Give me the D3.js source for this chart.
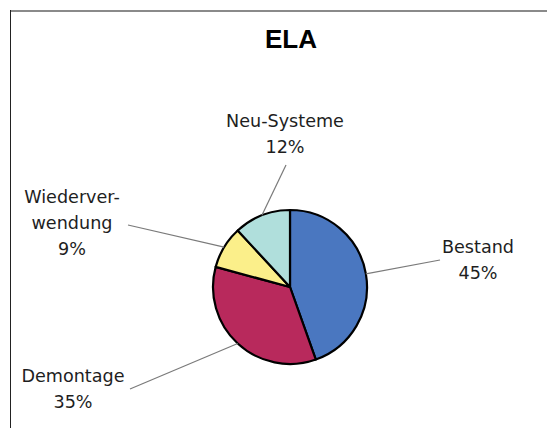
<!DOCTYPE html>
<html>
<head>
<meta charset="utf-8">
<script src="https://cdn.jsdelivr.net/npm/d3@7"></script>
<style>
html,body{margin:0;padding:0;background:#fff;}
svg{display:block;}
</style>
</head>
<body>
<svg id="chart" width="547" height="428"></svg>
<script>
// Data
const categories = ["Bestand", "Demontage", "Wiederverwendung", "Neu-Systeme"];
const values = [45, 35, 9, 12];
const labelLines = [["Bestand", "45%"], ["Demontage", "35%"], ["Wiederver-", "wendung", "9%"], ["Neu-Systeme", "12%"]];
const colors = ["#4a77c0", "#b8295c", "#fbef8a", "#b0dfdc"];

// Layout (label anchor positions and leader line ends)
const labelPos = [
  {x: 478, y: 253, lx: 440, ly: 260},
  {x: 73, y: 382, lx: 130, ly: 389},
  {x: 72, y: 203, lx: 128, ly: 225},
  {x: 285, y: 127, lx: 286, ly: 165}
];

const svg = d3.select("#chart");
const W = 547, H = 428;
const cx = 290, cy = 287, R = 77;

// frame
svg.append("line").attr("x1", 10).attr("x2", W).attr("y1", 11).attr("y2", 11)
  .attr("stroke", "#8a8a8a").attr("stroke-width", 2);
svg.append("line").attr("x1", 10.5).attr("x2", 10.5).attr("y1", 10).attr("y2", H)
  .attr("stroke", "#222").attr("stroke-width", 1);

// title
svg.append("text").attr("x", 291).attr("y", 48).attr("text-anchor", "middle")
  .attr("font-family", "Liberation Sans, Arial, sans-serif").attr("font-weight", "bold")
  .attr("font-size", 26).attr("fill", "#000").text("ELA");

const pie = d3.pie().sort(null).value(d => d).startAngle(0).endAngle(2 * Math.PI);
const arcs = pie(values);
const arc = d3.arc().innerRadius(0).outerRadius(R);

const g = svg.append("g").attr("transform", `translate(${cx},${cy})`);
g.selectAll("path").data(arcs).join("path")
  .attr("d", arc)
  .attr("fill", (d, i) => colors[i])
  .attr("stroke", "#000").attr("stroke-width", 2.2).attr("stroke-linejoin", "round");

// leader lines
arcs.forEach((d, i) => {
  const a = (d.startAngle + d.endAngle) / 2;
  const px = cx + R * Math.sin(a), py = cy - R * Math.cos(a);
  svg.append("line").attr("x1", px).attr("y1", py)
    .attr("x2", labelPos[i].lx).attr("y2", labelPos[i].ly)
    .attr("stroke", "#7a7a7a").attr("stroke-width", 1.2);
});

// labels
labelLines.forEach((lines, i) => {
  const t = svg.append("text").attr("text-anchor", "middle")
    .attr("font-family", "DejaVu Sans, Verdana, sans-serif").attr("font-size", 17.6)
    .attr("fill", "#1e1e1e");
  lines.forEach((s, j) => {
    t.append("tspan").attr("x", labelPos[i].x).attr("y", labelPos[i].y + j * 26).text(s);
  });
});
</script>
</body>
</html>
